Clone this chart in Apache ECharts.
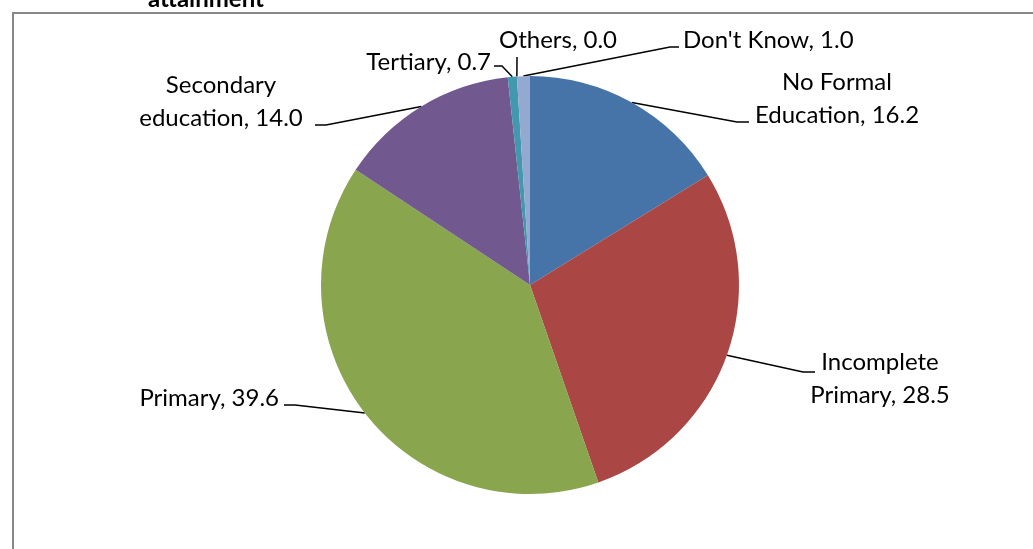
<!DOCTYPE html>
<html>
<head>
<meta charset="utf-8">
<script src="https://cdn.jsdelivr.net/npm/echarts@6/dist/echarts.min.js"></script>
<style>
html,body{margin:0;padding:0;background:#fff;}
#chart{width:1033px;height:549px;}
</style>
</head>
<body>
<div id="chart"></div>
<script>
// Data
const categories = ["No Formal\nEducation", "Incomplete\nPrimary", "Primary", "Secondary\neducation", "Tertiary", "Others", "Don't Know"];
const values = [16.2, 28.5, 39.6, 14.0, 0.7, 0.0, 1.0];
const colors = ["#4674A8", "#AA4643", "#89A54E", "#71588F", "#4198AF", "#DB843D", "#93A9CF"];
const titleText = "attainment";

// Label placement (styling)
const labelPos = [
  {x: 837, y: 99, align: 'center', elbow: [737, 122], end: [749, 122]},
  {x: 880, y: 379, align: 'center', elbow: [803, 372], end: [815, 372]},
  {x: 279, y: 398, align: 'right', elbow: [295, 405], end: [284, 405]},
  {x: 221, y: 102, align: 'center', elbow: [326, 125], end: [315, 125]},
  {x: 491, y: 62, align: 'right', elbow: [502, 66], end: [494, 66]},
  {x: 558, y: 40, align: 'center', elbow: [517, 57], end: [517, 57]},
  {x: 683, y: 40, align: 'left', elbow: [670, 47], end: [679, 47]}
];

const chart = echarts.init(document.getElementById('chart'));
chart.setOption({
  animation: false,
  graphic: [
    {type: 'rect', shape: {x: 13, y: 13, width: 1100, height: 600},
     style: {fill: 'none', stroke: '#878787', lineWidth: 2}, silent: true},
    {type: 'text', x: 206, y: -1,
     style: {text: titleText, font: 'bold 24px Lato', fill: '#000', align: 'center', verticalAlign: 'middle'}}
  ],
  series: [{
    type: 'pie',
    center: [530, 285],
    radius: 209,
    startAngle: 90,
    clockwise: true,
    avoidLabelOverlap: false,
    stillShowZeroSum: true,
    itemStyle: {borderWidth: 0},
    data: categories.map((c, i) => ({name: c, value: values[i], itemStyle: {color: colors[i]}})),
    label: {
      show: true,
      position: 'outside',
      formatter: p => p.name + ', ' + p.value.toFixed(1),
      color: '#000',
      fontFamily: 'Lato',
      fontSize: 24,
      lineHeight: 33,
      align: 'center'
    },
    labelLine: {show: true, length: 10, length2: 10, smooth: false,
      lineStyle: {color: '#000', width: 1.5}},
    labelLayout: function (params) {
      const L = labelPos[params.dataIndex];
      const p0 = params.labelLinePoints ? params.labelLinePoints[0] : L.elbow;
      return {
        x: L.x, y: L.y, align: L.align, verticalAlign: 'middle',
        labelLinePoints: [p0, L.elbow, L.end]
      };
    }
  }]
});
</script>
</body>
</html>
